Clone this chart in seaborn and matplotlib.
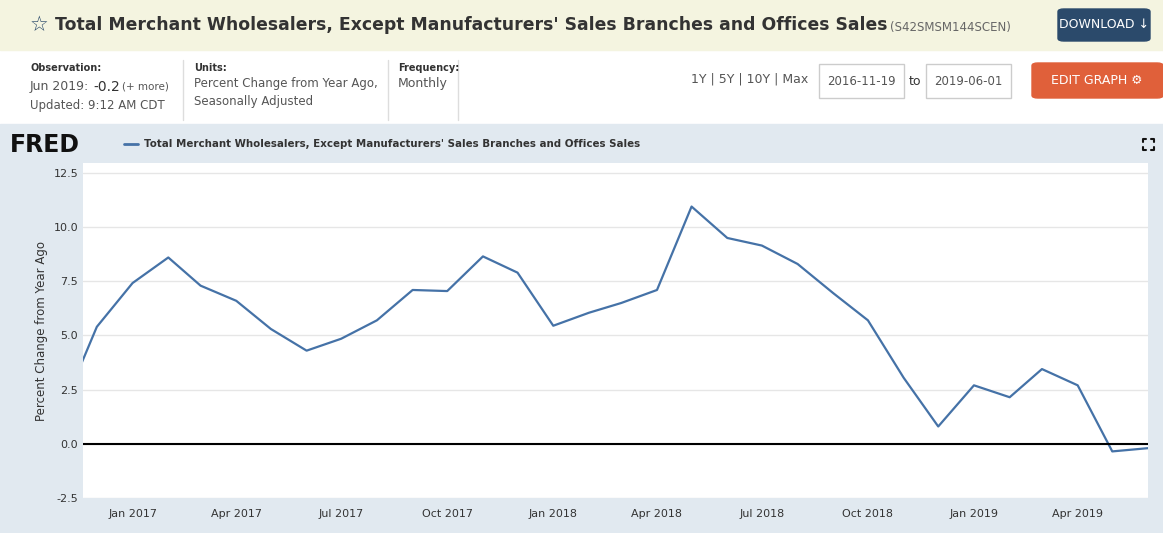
import numpy as np
import pandas as pd
import matplotlib
matplotlib.use("Agg")
import matplotlib.pyplot as plt
from matplotlib.patches import Rectangle, FancyBboxPatch
import seaborn as sns

# Données
dates = pd.date_range("2016-11-01", "2019-06-01", freq="MS")
values = [1.6, 5.4, 7.42, 8.6, 7.3, 6.6, 5.3, 4.3, 4.85, 5.7, 7.1, 7.05, 8.65, 7.9,
          5.45, 6.05, 6.5, 7.1, 10.95, 9.5, 9.15, 8.3, 6.95, 5.7, 3.05, 0.8,
          2.7, 2.15, 3.45, 2.7, -0.35, -0.2]
tick_dates = pd.to_datetime(["2017-01-01", "2017-04-01", "2017-07-01", "2017-10-01",
                             "2018-01-01", "2018-04-01", "2018-07-01", "2018-10-01",
                             "2019-01-01", "2019-04-01"])
y_ticks = [-2.5, 0.0, 2.5, 5.0, 7.5, 10.0, 12.5]
df = pd.DataFrame({"date": dates, "value": values})

sns.set_theme(style="white")
plt.rcParams['font.family'] = ['DejaVu Sans']

W, H = 1163, 533
fig = plt.figure(figsize=(W / 100, H / 100), dpi=100)

def px(x, y):
    return x / W, 1 - y / H

# bandes de fond
fig.patches.append(Rectangle(px(0, 50), 1, 50 / H, transform=fig.transFigure, color="#f4f4e0", zorder=-10))
fig.patches.append(Rectangle(px(0, 533), 1, (533 - 124) / H, transform=fig.transFigure, color="#e1e9f0", zorder=-10))

# en-tête
fig.text(*px(30, 25), "☆", fontsize=15, color="#2b4a6b", va="center")
fig.text(*px(55, 25), "Total Merchant Wholesalers, Except Manufacturers' Sales Branches and Offices Sales",
         fontsize=12.4, fontweight="bold", color="#333333", va="center")
fig.text(*px(890, 27), "(S42SMSM144SCEN)", fontsize=8.5, color="#666666", va="center")
fig.patches.append(FancyBboxPatch(px(1058, 41), 92 / W, 32 / H, boxstyle="round,pad=0,rounding_size=0.005",
                                  transform=fig.transFigure, color="#2b4a6b"))
fig.text(*px(1104, 25), "DOWNLOAD ↓", fontsize=9, color="white", ha="center", va="center")

fig.text(*px(30, 68), "Observation:", fontsize=7, fontweight="bold", color="#333333", va="center")
fig.text(*px(30, 87), "Jun 2019:", fontsize=9, color="#555555", va="center")
fig.text(*px(93, 87), "-0.2", fontsize=10, color="#333333", va="center")
fig.text(*px(122, 87), "(+ more)", fontsize=7.5, color="#555555", va="center")
fig.text(*px(30, 105), "Updated: 9:12 AM CDT", fontsize=8.5, color="#555555", va="center")
fig.text(*px(194, 68), "Units:", fontsize=7, fontweight="bold", color="#333333", va="center")
fig.text(*px(194, 84), "Percent Change from Year Ago,", fontsize=8.5, color="#555555", va="center")
fig.text(*px(194, 101), "Seasonally Adjusted", fontsize=8.5, color="#555555", va="center")
fig.text(*px(398, 68), "Frequency:", fontsize=7, fontweight="bold", color="#333333", va="center")
fig.text(*px(398, 84), "Monthly", fontsize=9, color="#555555", va="center")
for xline in [183, 388, 458]:
    fig.lines.append(plt.Line2D([xline / W] * 2, [1 - 60 / H, 1 - 120 / H], transform=fig.transFigure,
                                color="#dddddd", lw=1))
fig.text(*px(750, 79), "1Y | 5Y | 10Y | Max", fontsize=9, color="#555555", ha="center", va="center")
for x0, txt in [(819, "2016-11-19"), (926, "2019-06-01")]:
    fig.patches.append(Rectangle(px(x0, 98), 85 / W, 34 / H, transform=fig.transFigure,
                                 facecolor="white", edgecolor="#cccccc"))
    fig.text(*px(x0 + 42, 81), txt, fontsize=8.5, color="#555555", ha="center", va="center")
fig.text(*px(915, 81), "to", fontsize=9, color="#333333", ha="center", va="center")
fig.patches.append(FancyBboxPatch(px(1032, 98), 131 / W, 35 / H, boxstyle="round,pad=0,rounding_size=0.005",
                                  transform=fig.transFigure, color="#e0603a"))
fig.text(*px(1097, 80), "EDIT GRAPH ⚙", fontsize=9, color="white", ha="center", va="center")

# logo et légende
fig.text(*px(10, 145), "FRED", fontsize=17, fontweight="bold", color="#111111", va="center")
fig.lines.append(plt.Line2D([124 / W, 138 / W], [1 - 144 / H] * 2, transform=fig.transFigure,
                            color="#4572a7", lw=2))
fig.text(*px(144, 144), "Total Merchant Wholesalers, Except Manufacturers' Sales Branches and Offices Sales",
         fontsize=7.4, fontweight="bold", color="#333333", va="center")
# icône plein écran (coins)
for cx, cy, dx, dy in [(1143, 139, 1, 1), (1154, 139, -1, 1), (1143, 150, 1, -1), (1154, 150, -1, -1)]:
    fig.lines.append(plt.Line2D([(cx + 3 * dx) / W, cx / W, cx / W],
                                [1 - cy / H, 1 - cy / H, 1 - (cy + 3 * dy) / H],
                                transform=fig.transFigure, color="#111111", lw=1.5))

# axes
ax = fig.add_axes([83 / W, 1 - 498 / H, (1148 - 83) / W, (498 - 163) / H])
ax.set_facecolor("white")
sns.lineplot(data=df, x="date", y="value", ax=ax, color="#4572a7", lw=1.6)
ax.axhline(0, color="black", lw=1.5)
ax.set_xlim(pd.Timestamp("2016-11-19"), pd.Timestamp("2019-06-01"))
ax.set_ylim(-2.5, 12.96)
ax.set_yticks(y_ticks)
ax.set_yticklabels([f"{v:.1f}" for v in y_ticks], fontsize=8, color="#333333")
ax.set_xticks(tick_dates)
ax.set_xticklabels([d.strftime("%b %Y") for d in tick_dates], fontsize=8, color="#333333")
ax.tick_params(axis="x", length=6, color="#cccccc", pad=2)
ax.tick_params(axis="y", length=0)
ax.grid(axis="y", color="#e6e6e6", lw=1)
for s in ax.spines.values():
    s.set_visible(False)
ax.set_xlabel("")
ax.set_ylabel("Percent Change from Year Ago", fontsize=8.5, color="#333333")

fig.savefig("out.png", dpi=100)
